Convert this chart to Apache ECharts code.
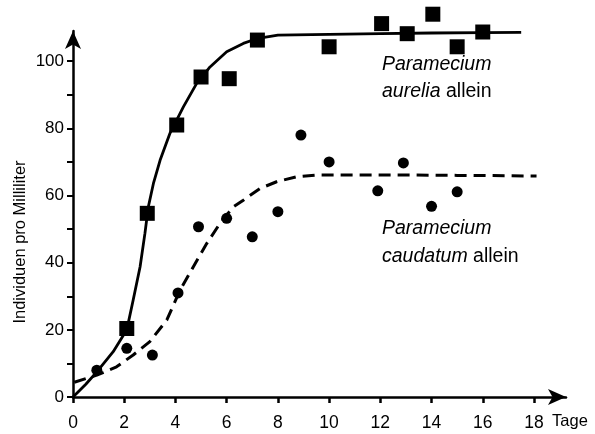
<!DOCTYPE html>
<html>
<head>
<meta charset="utf-8">
<script src="https://cdn.jsdelivr.net/npm/echarts@6/dist/echarts.min.js"></script>
<style>
  html, body { margin: 0; padding: 0; background: #fff; }
  #chart { width: 595px; height: 434px; }
</style>
</head>
<body>
<div id="chart"></div>
<script>
// Messpunkte Paramecium aurelia (Tage / Individuen pro ml)
const aureliaDays = [2.1, 2.9, 4.05, 5, 6.1, 7.2, 10, 12.05, 13.05, 14.05, 15, 16];
const aureliaValues = [20.4, 54.7, 81, 95.3, 94.8, 106.3, 104.3, 111.2, 108.2, 114, 104.3, 108.7];

// Messpunkte Paramecium caudatum
const caudatumDays = [0.93, 2.1, 3.1, 4.1, 4.9, 6, 7, 8, 8.9, 10, 11.9, 12.9, 14, 15];
const caudatumValues = [8, 14.5, 12.5, 31, 50.7, 53.2, 47.7, 55.2, 78, 70, 61.4, 69.7, 56.8, 61.1];

// Kurven
const aureliaCurveDays = [0, 0.5, 0.93, 1.57, 2.1, 2.35, 2.62, 2.81, 2.94, 3.14, 3.4, 3.79, 4.31, 4.83, 5.35, 6, 6.65, 7.17, 8, 10, 12, 14, 16, 17.5];
const aureliaCurveValues = [0, 3.8, 7.5, 13.5, 20, 28.9, 38.8, 48.8, 56.6, 63.6, 70.5, 78.6, 86.4, 93.4, 98.3, 102.8, 105.3, 106.7, 107.8, 108, 108.2, 108.4, 108.5, 108.6];

const caudatumCurveDays = [0.05, 0.93, 1.7, 2.35, 3, 3.66, 4.18, 4.7, 5.22, 5.74, 6.26, 6.65, 7.3, 7.95, 8.73, 9.5, 11, 13, 15, 17, 18.1];
const caudatumCurveValues = [4.4, 6.5, 9, 12.5, 16.5, 22.9, 31.8, 38.8, 45.7, 51.7, 56.6, 58.6, 62.1, 64.1, 65.6, 66.1, 66.1, 66.1, 66, 65.9, 65.8];

// Achsen
const xTicks = [0, 2, 4, 6, 8, 10, 12, 14, 16, 18];
const yTicks = [0, 10, 20, 30, 40, 50, 60, 70, 80, 90, 100];
const yLabels = [0, 20, 40, 60, 80, 100];

const font = '"Liberation Sans", Arial, sans-serif';
const ink = '#000';

function pairs(xs, ys) {
  return xs.map((x, i) => [x, ys[i]]);
}

const chart = echarts.init(document.getElementById('chart'));
chart.setOption({
  animation: false,
  grid: { left: 73, right: 29, top: 31, bottom: 37 },
  xAxis: {
    type: 'value',
    min: 0,
    max: 19.25,
    axisLine: {
      symbol: ['none', 'arrow'],
      symbolSize: [12, 18],
      lineStyle: { color: ink, width: 2.5 }
    },
    axisTick: { customValues: xTicks, length: 6, lineStyle: { color: ink, width: 2.5 } },
    axisLabel: { customValues: xTicks, margin: 17, color: ink, fontSize: 17.5, fontFamily: font },
    splitLine: { show: false }
  },
  yAxis: {
    type: 'value',
    min: 0,
    max: 109,
    axisLine: {
      show: true,
      symbol: ['none', 'arrow'],
      symbolSize: [12, 18],
      lineStyle: { color: ink, width: 2.5 }
    },
    axisTick: { show: true, customValues: yTicks, length: 6, lineStyle: { color: ink, width: 2 } },
    axisLabel: { customValues: yLabels, margin: 9, color: ink, fontSize: 17, fontFamily: font },
    splitLine: { show: false }
  },
  graphic: [
    {
      type: 'text', x: 20, y: 242, rotation: Math.PI / 2,
      style: { text: 'Individuen pro Milliliter', fontSize: 16.5, fontFamily: font, fill: ink, align: 'center', verticalAlign: 'middle' }
    },
    {
      type: 'text', x: 570, y: 421,
      style: { text: 'Tage', fontSize: 16.5, fontFamily: font, fill: ink, align: 'center', verticalAlign: 'middle' }
    },
    {
      type: 'text', x: 382, y: 51,
      style: {
        text: '{i|Paramecium}\n{i|aurelia} allein',
        fontSize: 19.5, fontFamily: font, fill: ink, lineHeight: 27,
        rich: { i: { fontStyle: 'italic', fontSize: 19.5, fontFamily: font, fill: ink, lineHeight: 27 } }
      }
    },
    {
      type: 'text', x: 382, y: 215,
      style: {
        text: '{i|Paramecium}\n{i|caudatum} allein',
        fontSize: 19.5, fontFamily: font, fill: ink, lineHeight: 28,
        rich: { i: { fontStyle: 'italic', fontSize: 19.5, fontFamily: font, fill: ink, lineHeight: 28 } }
      }
    }
  ],
  series: [
    {
      type: 'line',
      data: pairs(aureliaCurveDays, aureliaCurveValues),
      showSymbol: false,
      smooth: false,
      clip: false,
      lineStyle: { color: ink, width: 2.8 }
    },
    {
      type: 'line',
      data: pairs(caudatumCurveDays, caudatumCurveValues),
      showSymbol: false,
      smooth: false,
      clip: false,
      lineStyle: { color: ink, width: 3, type: [12, 7] }
    },
    {
      type: 'scatter',
      data: pairs(aureliaDays, aureliaValues),
      symbol: 'rect',
      symbolSize: 15,
      clip: false,
      itemStyle: { color: ink, opacity: 1 }
    },
    {
      type: 'scatter',
      data: pairs(caudatumDays, caudatumValues),
      symbol: 'circle',
      symbolSize: 11,
      clip: false,
      itemStyle: { color: ink, opacity: 1 }
    }
  ]
});
</script>
</body>
</html>
